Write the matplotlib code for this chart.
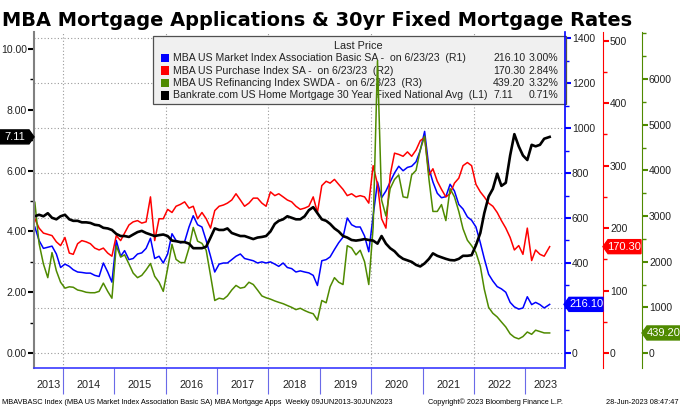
import matplotlib
matplotlib.use("Agg")
import matplotlib.pyplot as plt
import matplotlib.dates as mdates
import pandas as pd
from matplotlib.ticker import (MultipleLocator, FixedLocator, FixedFormatter,
                               FormatStrFormatter, FuncFormatter)
from matplotlib.patches import Polygon, Rectangle

plt.rcParams["font.family"] = ["Liberation Sans", "DejaVu Sans"]

# monthly readings, Jun 2013 .. Jun 2023
dates = pd.date_range("2013-06-01", "2023-05-01", freq="MS") + pd.Timedelta(days=14)
dates = dates.append(pd.DatetimeIndex(["2023-06-23"]))

# Bankrate 30yr fixed (L1, %)
rate_30y = [
    4.50, 4.55, 4.50, 4.60, 4.45, 4.40, 4.50,
    4.55, 4.40, 4.35, 4.35, 4.30, 4.30, 4.28, 4.22, 4.20, 4.12, 4.10, 4.05,
    3.92, 3.85, 3.85, 3.82, 3.90, 3.98, 4.02, 3.95, 3.90, 3.85, 3.88, 3.90,
    3.85, 3.70, 3.68, 3.65, 3.65, 3.60, 3.45, 3.45, 3.45, 3.50, 3.80, 4.10,
    4.05, 4.05, 4.10, 3.95, 3.90, 3.85, 3.85, 3.80, 3.75, 3.80, 3.82, 3.85,
    4.00, 4.25, 4.35, 4.40, 4.50, 4.45, 4.40, 4.40, 4.50, 4.70, 4.80, 4.60,
    4.40, 4.35, 4.25, 4.10, 4.00, 3.85, 3.80, 3.72, 3.70, 3.72, 3.75, 3.72,
    3.70, 3.60, 3.85, 3.60, 3.45, 3.35, 3.20, 3.10, 3.05, 3.00, 2.90, 2.85,
    2.95, 3.10, 3.28, 3.20, 3.15, 3.10, 3.06, 3.05, 3.10, 3.20, 3.20, 3.22,
    3.55, 3.95, 4.60, 5.15, 5.40, 5.90, 5.50, 5.60, 6.50, 7.20, 6.80, 6.50,
    6.35, 6.85, 6.80, 6.85, 7.05, 7.11,
]
# MBA market index (R1)
mkt_index = [
    560, 500, 465, 470, 475, 440, 380,
    395, 385, 370, 360, 358, 355, 355, 345, 340, 400, 360, 315,
    500, 430, 455, 415, 420, 440, 445, 465, 510, 420, 430, 400,
    440, 530, 500, 490, 495, 560, 610, 570, 560, 500, 430, 360,
    395, 400, 400, 415, 430, 440, 420, 415, 410, 400, 405, 400,
    405, 395, 385, 400, 380, 375, 360, 365, 360, 356, 345, 300,
    410, 415, 427, 460, 490, 515, 600, 570, 560, 560, 520, 450,
    610, 760, 690, 720, 760, 800, 830, 810, 825, 830, 850, 900,
    985, 820, 760, 710, 690, 695, 750, 720, 660, 640, 605, 590,
    560, 490, 420, 350, 320, 295, 285, 270, 225, 205, 195, 200,
    250, 215, 225, 215, 200, 216.10,
]
# MBA purchase index (R2)
purchase_index = [
    215, 200, 192, 190, 188, 178, 172,
    185, 160, 158, 175, 180, 178, 175, 168, 165, 168, 160, 155,
    188, 180, 192, 205, 210, 212, 208, 210, 250, 180, 215, 215,
    230, 225, 235, 238, 242, 232, 235, 215, 225, 215, 200, 228,
    235, 237, 240, 245, 255, 245, 235, 240, 248, 248, 240, 235,
    258, 252, 255, 250, 245, 242, 235, 230, 232, 235, 250, 225,
    268, 275, 272, 278, 270, 262, 252, 255, 250, 252, 250, 240,
    300, 270, 215, 200, 285, 320, 318, 315, 322, 315, 325, 340,
    345, 285, 295, 275, 262, 250, 255, 272, 280, 300, 305, 300,
    270, 258, 250, 240, 235, 225, 212, 200, 185, 165, 172, 158,
    200, 148, 165, 158, 155, 170.30,
]
# MBA refinancing index (R3)
refi_index = [
    3300, 2400, 1950, 1650, 2200, 1800, 1550,
    1420, 1450, 1440, 1380, 1360, 1330, 1320, 1320, 1350, 1530, 1350, 1200,
    2350, 2100, 2150, 1950, 1750, 1650, 1700, 1820, 1960, 1680, 1550, 1350,
    1850, 2380, 2050, 1980, 1980, 2300, 2750, 2450, 2400, 2250, 1700, 1150,
    1200, 1180, 1250, 1380, 1480, 1420, 1440, 1550, 1500, 1380, 1250, 1210,
    1180, 1140, 1110, 1080, 1040, 1000, 950, 980, 930, 890, 860, 720,
    1150, 1100, 1450, 1650, 1550, 1500, 2350, 2300, 2150, 2250, 2000, 1500,
    2750, 6400, 3350, 3000, 3600, 3800, 3900, 3420, 3400, 3900, 4000, 4450,
    4750, 3800, 3100, 3100, 3250, 2900, 3600, 3420, 3100, 2720, 2470, 2350,
    2200, 1900, 1400, 1000, 870, 790, 680, 570, 420, 345, 310, 360,
    460, 410, 500, 470, 440, 439.20,
]
years = list(range(2013, 2024))

legend_names = [
    "MBA US Market Index Association Basic SA -  on 6/23/23  (R1)",
    "MBA US Purchase Index SA -  on 6/23/23  (R2)",
    "MBA US Refinancing Index SWDA -  on 6/23/23  (R3)",
    "Bankrate.com US Home Mortgage 30 Year Fixed National Avg  (L1)",
]
last_vals = ["216.10", "170.30", "439.20", "7.11"]
last_pct = ["3.00%", "2.84%", "3.32%", "0.71%"]

BLUE, RED, GREEN, GRID = "#0000ff", "#ff0000", "#4f8a00", "#9a9a9a"

W, H = 680, 407
fig = plt.figure(figsize=(W / 100, H / 100), dpi=100)


def fx(x):
    return x / W


def fy(y):
    return 1 - y / H


L, R, T, B = 34, 565, 32, 368
ax = fig.add_axes([fx(L), fy(B), (R - L) / W, (B - T) / H])
ax_blue = ax.twinx()
ax_red = ax.twinx()
ax_green = ax.twinx()
ax.set_zorder(2)
ax.patch.set_visible(False)

ax_blue.plot(dates, mkt_index, color=BLUE, lw=1.1)
ax_red.plot(dates, purchase_index, color=RED, lw=1.1)
ax_green.plot(dates, refi_index, color=GREEN, lw=1.1)
ax.plot(dates, rate_30y, color="black", lw=1.9)

x0, x1 = pd.Timestamp("2013-06-09"), pd.Timestamp("2023-10-10")
ax.set_xlim(x0, x1)
ax.set_ylim(-0.49, 10.56)
ax_blue.set_ylim(-66.7, 1426.7)
ax_red.set_ylim(-24, 514)
ax_green.set_ylim(-328, 7029)

# spines
for a in (ax_blue, ax_red, ax_green):
    for s in ("left", "top", "bottom"):
        a.spines[s].set_visible(False)
ax.spines["top"].set_visible(False)
ax.spines["right"].set_visible(False)
ax.spines["left"].set_color("#808080")
ax.spines["left"].set_linewidth(1.5)
ax.spines["bottom"].set_color("#3a3aff")
ax.spines["bottom"].set_linewidth(1.2)
ax_blue.spines["right"].set_color(BLUE)
ax_blue.spines["right"].set_linewidth(1.2)
ax_red.spines["right"].set_position(("axes", (603 - L) / (R - L)))
ax_red.spines["right"].set_color(RED)
ax_red.spines["right"].set_linewidth(0.8)
ax_green.spines["right"].set_position(("axes", (642 - L) / (R - L)))
ax_green.spines["right"].set_color(GREEN)
ax_green.spines["right"].set_linewidth(0.8)

# y ticks
ax.yaxis.set_major_locator(MultipleLocator(2))
ax.yaxis.set_minor_locator(MultipleLocator(1))
ax.yaxis.set_major_formatter(FormatStrFormatter("%.2f"))
ax.tick_params(axis="y", which="major", length=4, width=1.5, color="black",
               labelsize=7.5, labelcolor="#222222", pad=1)
ax.tick_params(axis="y", which="minor", length=3, width=1, color="black")

ax_blue.yaxis.set_major_locator(MultipleLocator(200))
ax_blue.yaxis.set_minor_locator(MultipleLocator(100))
# the blue last-value tag covers the 200 label in the original
ax_blue.yaxis.set_major_formatter(
    FuncFormatter(lambda v, p: "" if abs(v - 200) < 1e-6 else f"{v:.0f}"))
ax_red.yaxis.set_major_locator(MultipleLocator(100))
ax_red.yaxis.set_minor_locator(MultipleLocator(50))
ax_green.yaxis.set_major_locator(FixedLocator(range(0, 6001, 1000)))
ax_green.yaxis.set_minor_locator(MultipleLocator(500))
for a, c in ((ax_blue, BLUE), (ax_red, RED), (ax_green, GREEN)):
    a.tick_params(axis="y", which="major", length=4, width=1.5, color=c,
                  labelsize=7.5, labelcolor="#222222", pad=1)
    a.tick_params(axis="y", which="minor", length=3, width=1, color=c)

# x ticks: year boundaries, labels centred in each visible year
xmin, xmax = mdates.date2num(x0), mdates.date2num(x1)
centers = []
for yr in years:
    a0 = max(mdates.date2num(pd.Timestamp(f"{yr}-01-01")), xmin)
    b0 = min(mdates.date2num(pd.Timestamp(f"{yr + 1}-01-01")), xmax)
    centers.append((a0 + b0) / 2)
ax.xaxis.set_major_locator(mdates.YearLocator())
ax.xaxis.set_major_formatter(FixedFormatter([]))
ax.xaxis.set_minor_locator(FixedLocator(centers))
ax.xaxis.set_minor_formatter(FixedFormatter([str(y) for y in years]))
ax.tick_params(axis="x", which="major", length=19, width=0.8, color="#6a6ae8")
ax.tick_params(axis="x", which="minor", length=0, labelsize=7.8, pad=8.5,
               labelcolor="#222222")

# grid
ax_blue.grid(axis="y", which="major", ls=(0, (1, 2)), color=GRID, lw=0.8)
for yr in (2014, 2016, 2018, 2020, 2022):
    ax_blue.axvline(pd.Timestamp(f"{yr}-01-01"), ls=(0, (1, 2)), color=GRID,
                    lw=0.8, zorder=1.5)

# legend box
ax_blue.add_patch(Rectangle((fx(153), fy(104)), (566 - 153) / W, (104 - 36) / H,
                            transform=fig.transFigure, facecolor="#f0f0f0",
                            edgecolor="#505050", lw=0.9, zorder=1.8, clip_on=False))
ax_blue.text(fx(358), fy(46), "Last Price", ha="center", va="center", fontsize=7.8,
             transform=fig.transFigure, zorder=1.9, color="#222222")
for i, (name, c) in enumerate(zip(legend_names, [BLUE, RED, GREEN, "black"])):
    yy = 58 + 12.5 * i
    ax_blue.add_patch(Rectangle((fx(161), fy(yy + 4)), 8 / W, 8 / H,
                                transform=fig.transFigure, facecolor=c,
                                edgecolor="none", zorder=1.9, clip_on=False))
    ax_blue.text(fx(173), fy(yy), name, va="center", fontsize=7.6,
                 transform=fig.transFigure, zorder=1.9, color="#222222")
    ax_blue.text(fx(493), fy(yy), last_vals[i], va="center", fontsize=7.6,
                 transform=fig.transFigure, zorder=1.9, color="#222222")
    ax_blue.text(fx(558), fy(yy), last_pct[i], va="center", ha="right", fontsize=7.6,
                 transform=fig.transFigure, zorder=1.9, color="#222222")

# last-value tags
inv = fig.transFigure.inverted()


def tag(axis, value, x_tip, x_end, color, text, point_left=True):
    yc = axis.transData.transform((xmin, value))[1]
    h = 7
    if point_left:
        verts = [(x_tip, yc), (x_tip + 5, yc + h), (x_end, yc + h),
                 (x_end, yc - h), (x_tip + 5, yc - h)]
        xc = (x_tip + 5 + x_end) / 2
    else:
        verts = [(x_end, yc + h), (x_tip - 5, yc + h), (x_tip, yc),
                 (x_tip - 5, yc - h), (x_end, yc - h)]
        xc = (x_end + x_tip - 5) / 2
    fig.add_artist(Polygon(inv.transform(verts), closed=True, facecolor=color,
                           edgecolor=color, transform=fig.transFigure, zorder=5))
    px, py = inv.transform((xc, yc))
    fig.text(px, py, text, ha="center", va="center", color="white",
             fontsize=8, zorder=6)


tag(ax_blue, mkt_index[-1], 564, 603, BLUE, last_vals[0])
tag(ax_red, purchase_index[-1], 603, 641, RED, last_vals[1])
tag(ax_green, refi_index[-1], 642, 680, GREEN, last_vals[2])
tag(ax, rate_30y[-1], 34, 0, "black", last_vals[3], point_left=False)

# title, fitted to the reference width
title = fig.text(fx(2), fy(26), "MBA Mortgage Applications & 30yr Fixed Mortgage Rates",
                 fontsize=14, fontweight="bold", va="baseline", family="DejaVu Sans")
fig.canvas.draw()
w = title.get_window_extent().width
title.set_fontsize(14 * 629 / w)

fig.text(fx(2), fy(402), "MBAVBASC Index (MBA US Market Index Association Basic SA) "
         "MBA Mortgage Apps  Weekly 09JUN2013-30JUN2023", fontsize=5.3, va="center")
fig.text(fx(428), fy(402), "Copyright\u00a9 2023 Bloomberg Finance L.P.", fontsize=5.3,
         va="center")
fig.text(fx(679), fy(402), "28-Jun-2023 08:47:47", ha="right", fontsize=5.3, va="center")

fig.savefig("out.png", dpi=100)
